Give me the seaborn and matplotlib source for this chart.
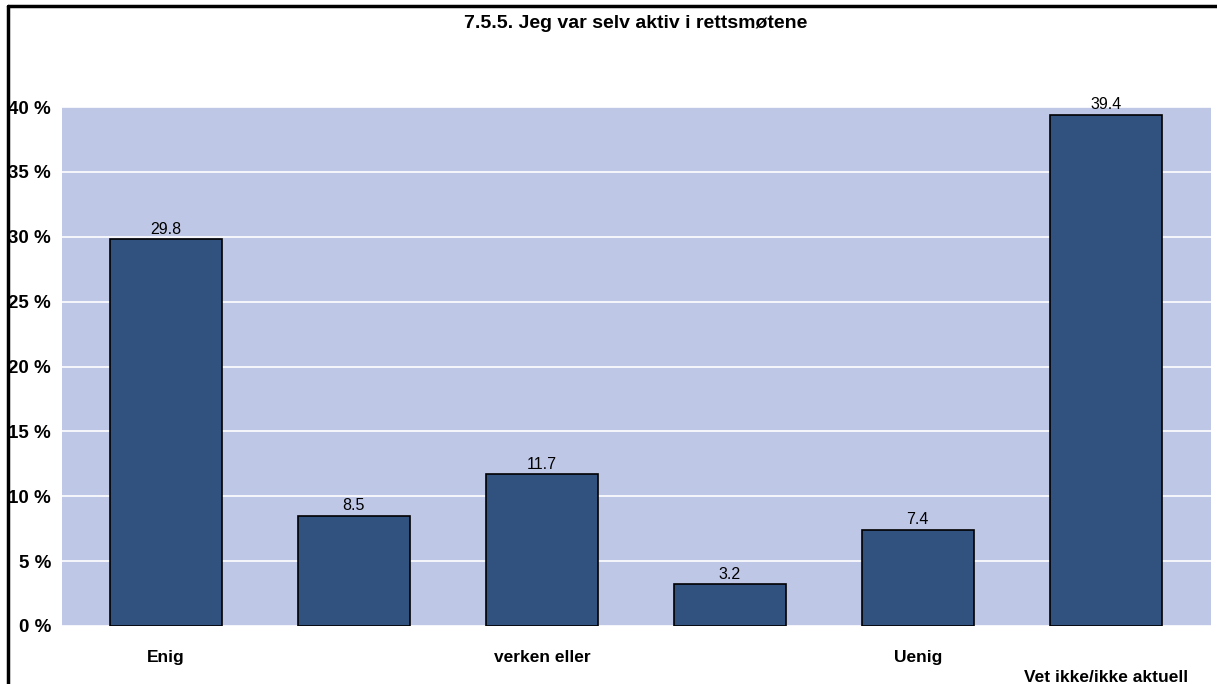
import matplotlib
matplotlib.use("Agg")
import matplotlib.pyplot as plt
import seaborn as sns
import pandas as pd
from matplotlib.lines import Line2D

categories = ["Enig", " ", "verken eller", "  ", "Uenig", "Vet ikke/ikke aktuell"]
values = [29.8, 8.5, 11.7, 3.2, 7.4, 39.4]
yticks = [0, 5, 10, 15, 20, 25, 30, 35, 40]
ytick_labels = ["0 %", "5 %", "10 %", "15 %", "20 %", "25 %", "30 %", "35 %", "40 %"]
title = "7.5.5. Jeg var selv aktiv i rettsmøtene"

sns.set_theme(style="white")
plt.rcParams['font.family'] = ['Liberation Sans', 'DejaVu Sans']
plt.rcParams['text.color'] = 'black'
plt.rcParams['xtick.color'] = 'black'
plt.rcParams['ytick.color'] = 'black'

df = pd.DataFrame({"cat": categories, "val": values})

fig = plt.figure(figsize=(12.17, 6.84), dpi=100)
ax = fig.add_axes([62/1217, 1 - 626/684, (1211-62)/1217, (626-107)/684])
ax.set_facecolor("#BFC7E6")

sns.barplot(data=df, x="cat", y="val", ax=ax, color="#31527F", saturation=1,
            width=0.595, edgecolor="black", linewidth=1.2, zorder=3)

ax.set_ylim(0, 40)
ax.set_xlim(-0.553, 5.56)
ax.set_yticks(yticks)
ax.set_yticklabels(ytick_labels, fontsize=13.5, fontweight="bold", color="black")
ax.yaxis.grid(True, color="white", linewidth=1.2, zorder=1)
ax.set_axisbelow(True)
ax.tick_params(axis="y", length=0, pad=8, labelcolor="black")
ax.tick_params(axis="x", length=0, pad=17, labelcolor="black")
ax.set_xlabel("")
ax.set_ylabel("")
for lbl in ax.get_xticklabels():
    lbl.set_fontsize(12.5)
    lbl.set_fontweight("bold")
    lbl.set_color("black")
xl = ax.get_xticklabels()
xl[-1].set_y(-0.04)
for s in ax.spines.values():
    s.set_visible(False)

for i, v in enumerate(values):
    ax.text(i, v + 0.2, f"{v:.1f}", ha="center", va="bottom", fontsize=11.5, color="black")

fig.text(0.522, 1 - 24/684, title, ha="center", va="center", fontsize=14, fontweight="bold", color="black")

fig.add_artist(Line2D([8/1217, 8/1217], [0, 1 - 6/684], transform=fig.transFigure, color="black", linewidth=2.5))
fig.add_artist(Line2D([8/1217, 1], [1 - 6/684, 1 - 6/684], transform=fig.transFigure, color="black", linewidth=2.5))

fig.savefig("out.png", dpi=100)
